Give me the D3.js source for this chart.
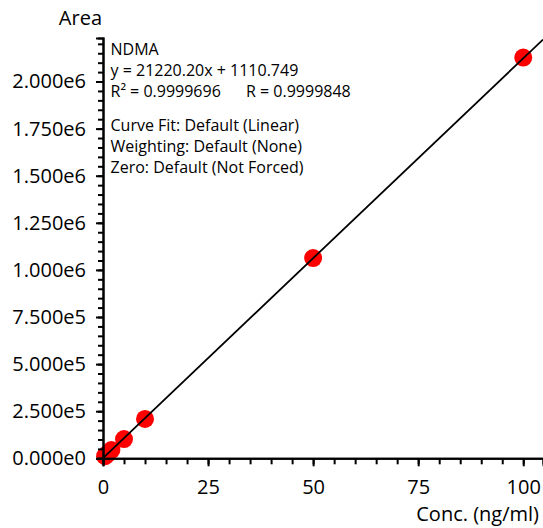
<!DOCTYPE html>
<html>
<head>
<meta charset="utf-8">
<script src="https://cdn.jsdelivr.net/npm/d3@7"></script>
<style>
  body { margin: 0; background: #fff; }
  text { font-family: "Open Sans", sans-serif; fill: #000; }
</style>
</head>
<body>
<div id="chart"></div>
<script>
const width = 543
const height = 528
const margin = {top: 38, bottom: 70, left: 103, right: 0}

// Data
const conc = [0.5, 1, 2, 5, 10, 50, 100]
const area = [11000, 22000, 44000, 102000, 209000, 1063000, 2127000]
const slope = 21220.20
const intercept = 1110.749

const xMajor = [0, 25, 50, 75, 100]
const yMajor = [0, 250000, 500000, 750000, 1000000, 1250000, 1500000, 1750000, 2000000]
const infoLines = ["NDMA", "y = 21220.20x + 1110.749", "R² = 0.9999696", "Curve Fit: Default (Linear)", "Weighting: Default (None)", "Zero: Default (Not Forced)"]
const infoBaselines = [55, 76, 97, 131, 152, 173]

const svg = d3.select("div#chart").append("svg").attr("width", width).attr("height", height)

const x = d3.scaleLinear().domain([0, 104.7]).range([margin.left, width - margin.right])
const y = d3.scaleLinear().domain([0, 2231000]).range([458.3, margin.top])

const fmtY = v => d3.format(".3e")(v).replace("+", "")

// Points (drawn first, axes and fit line go over them)
svg.append("g").selectAll("circle")
    .data(conc.map((c, i) => [c, area[i]]))
    .enter().append("circle")
    .attr("cx", d => x(d[0]))
    .attr("cy", d => y(d[1]))
    .attr("r", 9)
    .attr("fill", "#ff0000")

// Fit line
svg.append("line")
    .attr("x1", x(0)).attr("y1", y(intercept))
    .attr("x2", x(104.7)).attr("y2", y(slope * 104.7 + intercept))
    .attr("stroke", "#000").attr("stroke-width", 1.8)

// X axis: minor ticks, then major ticks with labels
const xMinor = d3.range(0, 104.7, 5)
const xAxisG = svg.append("g").attr("transform", `translate(0, ${y(0)})`)
xAxisG.append("g")
    .call(d3.axisBottom(x).tickValues(xMinor).tickSize(6).tickFormat(""))
xAxisG.append("g")
    .call(d3.axisBottom(x).tickValues(xMajor).tickSize(8).tickPadding(14))
xAxisG.selectAll("text").attr("font-size", 20)

// Y axis
const yMinor = d3.range(0, 2231000, 50000)
const yAxisG = svg.append("g").attr("transform", `translate(${x(0)}, 0)`)
yAxisG.append("g")
    .call(d3.axisLeft(y).tickValues(yMinor).tickSize(5).tickFormat(""))
yAxisG.append("g")
    .call(d3.axisLeft(y).tickValues(yMajor).tickSize(7).tickPadding(10).tickFormat(fmtY))
yAxisG.selectAll("text").attr("font-size", 20)

svg.selectAll(".domain").attr("stroke-width", 2)
svg.selectAll(".tick line").attr("stroke-width", 2)

// Axis titles
svg.append("text").attr("x", 102).attr("y", 25).attr("text-anchor", "end")
    .attr("font-size", 20).text("Area")
svg.append("text").attr("x", 539).attr("y", 521).attr("text-anchor", "end")
    .attr("font-size", 20).text("Conc. (ng/ml)")

// Fit information
const info = svg.append("g")
infoLines.forEach((t, i) => {
    info.append("text").attr("x", 110.5).attr("y", infoBaselines[i]).attr("font-size", 16).text(t)
})
info.append("text").attr("x", 246).attr("y", infoBaselines[2]).attr("font-size", 16).text("R = 0.9999848")
</script>
</body>
</html>
